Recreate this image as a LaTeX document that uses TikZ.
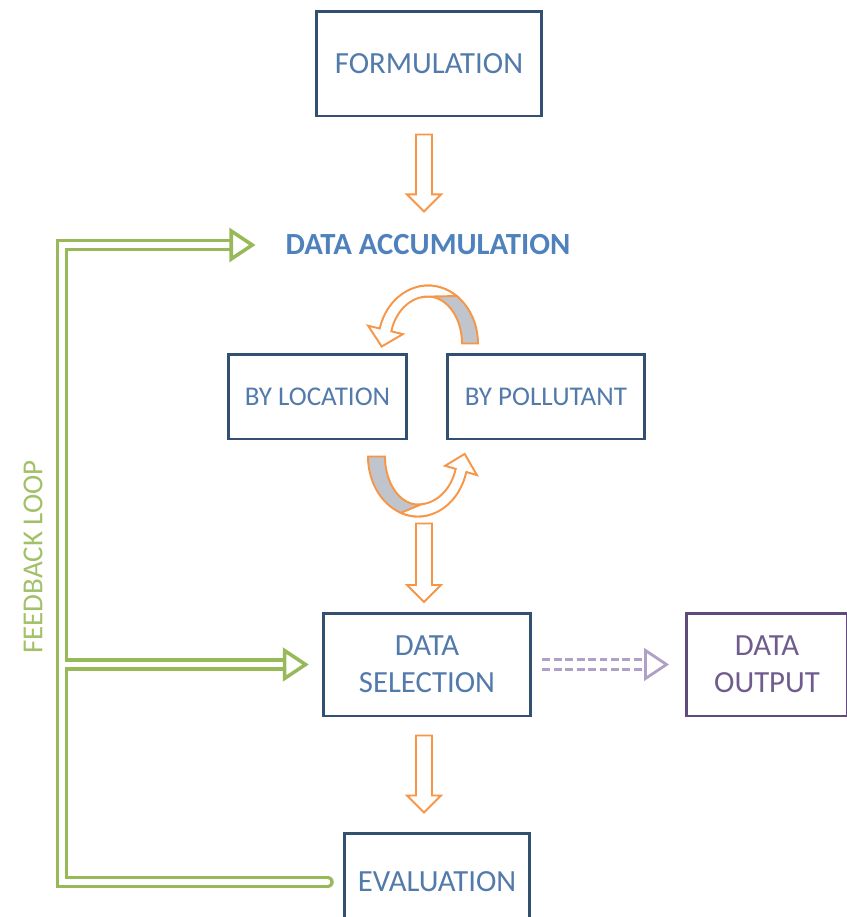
\documentclass[tikz,border=0pt]{standalone}
\usepackage{fontspec}
\setmainfont{Carlito}
\usepackage{tikz}
\usetikzlibrary{calc,positioning}

\definecolor{boxblue}{RGB}{52,80,112}
\definecolor{txtblue}{RGB}{82,122,170}
\definecolor{accblue}{RGB}{79,129,189}
\definecolor{arrorange}{RGB}{247,150,70}
\definecolor{curlgray}{RGB}{192,196,204}
\definecolor{loopgreen}{RGB}{152,185,88}
\definecolor{looptext}{RGB}{162,192,104}
\definecolor{outpurple}{RGB}{96,74,123}
\definecolor{outtext}{RGB}{112,92,140}
\definecolor{dashpurple}{RGB}{176,160,198}

\newcommand{\boxfont}{\fontsize{17.5}{21}\selectfont}
\newcommand{\smallboxfont}{\fontsize{15.4}{19}\selectfont}

% hollow block arrow pointing down, from #1 to the tip #2
\newcommand{\blockdown}[2]{%
  \draw[blockarrow] let \p1=(#1), \p2=(#2) in
    (\x1-0.16cm,\y1) -- (\x1+0.16cm,\y1) -- (\x1+0.16cm,\y2+0.34cm)
    -- (\x1+0.34cm,\y2+0.34cm) -- (\x1,\y2) -- (\x1-0.34cm,\y2+0.34cm)
    -- (\x1-0.16cm,\y2+0.34cm) -- cycle;}

% open triangle head, tip at #2
\newcommand{\openhead}[2]{%
  \filldraw[#1, fill=white, line join=miter] ($(#2)+(-21,-14)$) -- (#2) -- ($(#2)+(-21,14)$) -- cycle;}

\tikzset{
  box/.style={draw=boxblue, line width=1.7pt, fill=white, text=txtblue, font=\boxfont, align=center, inner sep=0pt},
  blockarrow/.style={draw=arrorange, line width=1.1pt, fill=white, line join=miter},
  curlfront/.style={draw=arrorange, line width=1.1pt, fill=white},
  curlback/.style={draw=arrorange, line width=1.1pt, fill=curlgray},
  fbline/.style={draw=loopgreen, line width=2pt, double=white, double distance=3.1pt},
  fbhead/.style={draw=loopgreen, line width=2pt},
  dashlink/.style={draw=dashpurple, line width=1.7pt, double=white, double distance=4.2pt, dash pattern=on 4.5pt off 2pt},
  dashhead/.style={draw=dashpurple, line width=1.6pt}
}

\begin{document}
\begin{tikzpicture}[x=0.02cm, y=-0.02cm]
\useasboundingbox (0,0) rectangle (846,917);

% Boxes
\node[box, minimum width=4.52cm, minimum height=2.1cm] (form) at (429,63.5) {FORMULATION};
\node[font={\boxfont\bfseries}, text=accblue, inner sep=0pt] (acc) at (428,245) {DATA ACCUMULATION};
\node[box, font=\smallboxfont, minimum width=3.58cm, minimum height=1.7cm] (loc) at (317.5,396.5) {BY LOCATION};
\node[box, font=\smallboxfont, minimum width=3.96cm, minimum height=1.7cm] (pol) at (546,396.5) {BY POLLUTANT};
\node[box, minimum width=4.16cm, minimum height=2.06cm] (sel) at (427,664.5) {DATA\\SELECTION};
\node[box, draw=outpurple, text=outtext, minimum width=3.24cm, minimum height=2.06cm] (out) at (767,664.5) {DATA\\OUTPUT};
\node[box, minimum width=3.72cm, minimum height=1.96cm] (eval) at (437,882) {EVALUATION};

% Curled arrows between the two sorts
\coordinate (topc) at ($(loc.north east)!0.5!(pol.north west)+(1,-9)$);
\coordinate (botc) at ($(loc.south east)!0.5!(pol.south west)+(-9,16)$);

\filldraw[curlback] ($(topc)+(50,0)$) arc[start angle=0, end angle=-100, x radius=50, y radius=58]
  -- ($(topc)+(-5.9,-46.3)$) arc[start angle=-100, end angle=0, x radius=34, y radius=47] -- cycle;
\filldraw[curlfront] ($(topc)+(28.7,-47.5)$) arc[start angle=-55, end angle=-165, x radius=50, y radius=58]
  -- ($(topc)+(-59.9,-17.8)$) -- ($(topc)+(-46.3,3)$) -- ($(topc)+(-25.1,-9.4)$)
  -- ($(topc)+(-36.7,-12.2)$) arc[start angle=-165, end angle=-95, x radius=38, y radius=47] -- cycle;

\filldraw[curlback] ($(botc)+(-50,0)$) arc[start angle=180, end angle=80, x radius=50, y radius=60]
  -- ($(botc)+(5.7,47.3)$) arc[start angle=80, end angle=180, x radius=33, y radius=48] -- cycle;
\filldraw[curlfront] ($(botc)+(-17.1,56.4)$) arc[start angle=110, end angle=15, x radius=50, y radius=60]
  -- ($(botc)+(58.9,18.6)$) -- ($(botc)+(46.7,-2.6)$) -- ($(botc)+(27.1,9.3)$)
  -- ($(botc)+(37.7,12.4)$) arc[start angle=15, end angle=85, x radius=39, y radius=48] -- cycle;

% Block arrows
\blockdown{$(form.south)+(-5,17)$}{$(acc.north)+(-4,-23)$}
\blockdown{$(botc)+(6,67)$}{$(sel.north)+(-3,-9.5)$}
\blockdown{$(sel.south)+(-3,18)$}{$(eval.north)+(-13,-19)$}

% Feedback loop
\coordinate (fbx) at (62,0);
\coordinate (fbend) at ($(eval.west)+(-15,0)$);
\coordinate (acctip) at ($(acc.west)+(-33,0)$);
\coordinate (seltip) at ($(sel.west)+(-16,0)$);
\draw[fbline, line cap=round] (fbend) -- (fbend -| fbx) -- (acctip -| fbx) -- ($(acctip)+(-21,0)$);
\draw[fbline] ($(seltip -| fbx)+(2.75,0)$) -- ($(seltip)+(-21,0)$);
\openhead{fbhead}{acctip}
\openhead{fbhead}{seltip}
\node[rotate=90, text=looptext, font=\fontsize{16.5}{20}\selectfont, inner sep=0pt] (fbtext) at (33,557) {FEEDBACK LOOP};

% Output link
\coordinate (outtip) at ($(out.west)+(-18,0)$);
\draw[dashlink] ($(sel.east)+(10,0)$) -- ($(outtip)+(-21,0)$);
\openhead{dashhead}{outtip}

\end{tikzpicture}
\end{document}
